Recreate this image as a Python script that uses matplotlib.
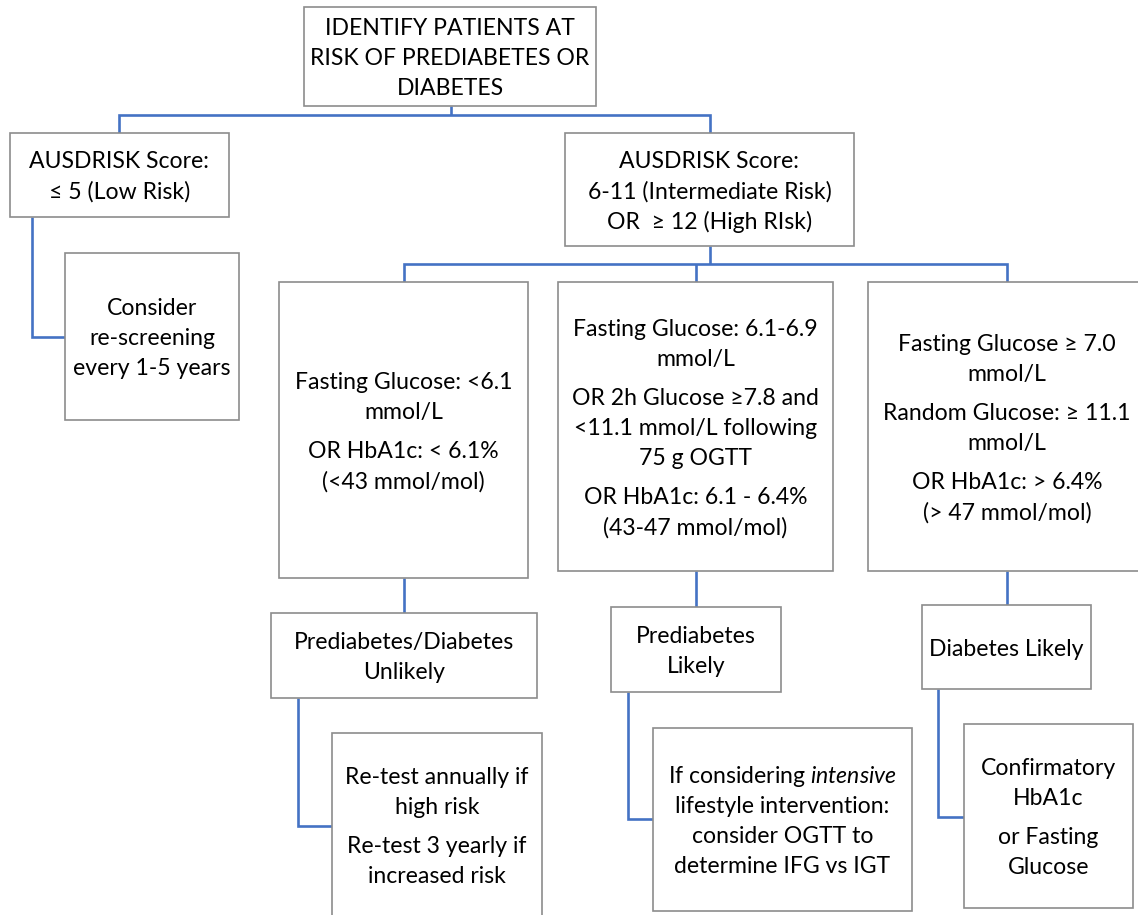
#!/usr/bin/env python3
"""Prediabetes / diabetes screening flowchart (AUSDRISK pathway)."""

import matplotlib
matplotlib.use("Agg")
import matplotlib.pyplot as plt
from matplotlib.patches import Rectangle

W, H = 1138, 915  # canvas in pixels
DPI = 100

plt.rcParams["font.family"] = ["Lato", "DejaVu Sans"]
plt.rcParams["mathtext.fontset"] = "custom"
plt.rcParams["mathtext.rm"] = "Lato"
plt.rcParams["mathtext.it"] = "Lato:italic"

BOX_EDGE = "#8c8c8c"
LINK = "#4472c4"
FONT_PT = 16.6
LINE_PX = 30   # line spacing inside a paragraph
PARA_PX = 9    # extra gap between paragraphs

# --- box texts (paragraphs -> lines) ---
top_text = [["IDENTIFY PATIENTS AT", "RISK OF PREDIABETES OR", "DIABETES"]]
low_text = [["AUSDRISK Score:", "≤ 5 (Low Risk)"]]
consider_text = [["Consider", "re-screening", "every 1-5 years"]]
mid_text = [["AUSDRISK Score:", "6-11 (Intermediate Risk)", "OR  ≥ 12 (High RIsk)"]]
fg_low_text = [["Fasting Glucose: <6.1", "mmol/L"],
               ["OR HbA1c: < 6.1%", "(<43 mmol/mol)"]]
fg_mid_text = [["Fasting Glucose: 6.1-6.9", "mmol/L"],
               ["OR 2h Glucose ≥7.8 and", "<11.1 mmol/L following", "75 g OGTT"],
               ["OR HbA1c: 6.1 - 6.4%", "(43-47 mmol/mol)"]]
fg_high_text = [["Fasting Glucose ≥ 7.0", "mmol/L"],
                ["Random Glucose: ≥ 11.1", "mmol/L"],
                ["OR HbA1c: > 6.4%", "(> 47 mmol/mol)"]]
unlikely_text = [["Prediabetes/Diabetes", "Unlikely"]]
retest_text = [["Re-test annually if", "high risk"],
               ["Re-test 3 yearly if", "increased risk"]]
prelikely_text = [["Prediabetes", "Likely"]]
lifestyle_text = [["If considering $\\mathit{intensive}$", "lifestyle intervention:",
                   "consider OGTT to", "determine IFG vs IGT"]]
dlikely_text = [["Diabetes Likely"]]
confirm_text = [["Confirmatory", "HbA1c"], ["or Fasting", "Glucose"]]

# --- layout: (x0, y0, x1, y1) in pixels, y downwards ---
layout = {
    "top": (304, 7, 596, 106),
    "low": (10, 133, 229, 217),
    "consider": (65, 253, 239, 420),
    "mid": (565, 133, 854, 246),
    "fg_low": (279, 282, 528, 578),
    "fg_mid": (558, 282, 833, 571),
    "fg_high": (868, 282, 1146, 571),
    "unlikely": (271, 613, 537, 698),
    "retest": (332, 733, 542, 920),
    "prelikely": (611, 607, 781, 692),
    "lifestyle": (653, 728, 912, 911),
    "dlikely": (922, 605, 1091, 689),
    "confirm": (964, 724, 1133, 908),
}
texts = {
    "top": top_text, "low": low_text, "consider": consider_text,
    "mid": mid_text, "fg_low": fg_low_text, "fg_mid": fg_mid_text,
    "fg_high": fg_high_text, "unlikely": unlikely_text,
    "retest": retest_text, "prelikely": prelikely_text,
    "lifestyle": lifestyle_text, "dlikely": dlikely_text,
    "confirm": confirm_text,
}

# connectors as polylines
links = [
    [(451, 106), (451, 115)],
    [(119, 133), (119, 115), (710, 115), (710, 133)],
    [(32, 217), (32, 337), (65, 337)],
    [(710, 246), (710, 264)],
    [(404, 282), (404, 264), (1007, 264), (1007, 282)],
    [(696, 264), (696, 282)],
    [(404, 578), (404, 613)],
    [(696, 571), (696, 607)],
    [(1007, 571), (1007, 605)],
    [(298, 698), (298, 826), (332, 826)],
    [(628, 692), (628, 819), (653, 819)],
    [(938, 689), (938, 817), (964, 817)],
]


def draw_box(ax, box, paragraphs):
    x0, y0, x1, y1 = box
    ax.add_patch(Rectangle((x0, y0), x1 - x0, y1 - y0, facecolor="white",
                           edgecolor=BOX_EDGE, linewidth=1.2, zorder=2))
    lines = []
    y = 0.0
    for p, para in enumerate(paragraphs):
        if p:
            y += PARA_PX
        for i, line in enumerate(para):
            if i or p:
                y += LINE_PX
            lines.append((y, line))
    cx = (x0 + x1) / 2
    y_mid = (y0 + min(y1, H + 2)) / 2 + 2 - y / 2
    for dy, line in lines:
        ax.text(cx, y_mid + dy, line, ha="center", va="center",
                fontsize=FONT_PT, color="black", zorder=3)


def main() -> None:
    fig = plt.figure(figsize=(W / DPI, H / DPI), dpi=DPI)
    ax = fig.add_axes([0, 0, 1, 1])
    ax.set_xlim(0, W)
    ax.set_ylim(H, 0)
    ax.axis("off")

    for pts in links:
        xs, ys = zip(*pts)
        ax.plot(xs, ys, color=LINK, linewidth=1.9, solid_capstyle="butt",
                solid_joinstyle="miter", zorder=1)

    for name, box in layout.items():
        draw_box(ax, box, texts[name])

    fig.savefig("out.png", dpi=DPI, facecolor="white")


if __name__ == "__main__":
    main()
